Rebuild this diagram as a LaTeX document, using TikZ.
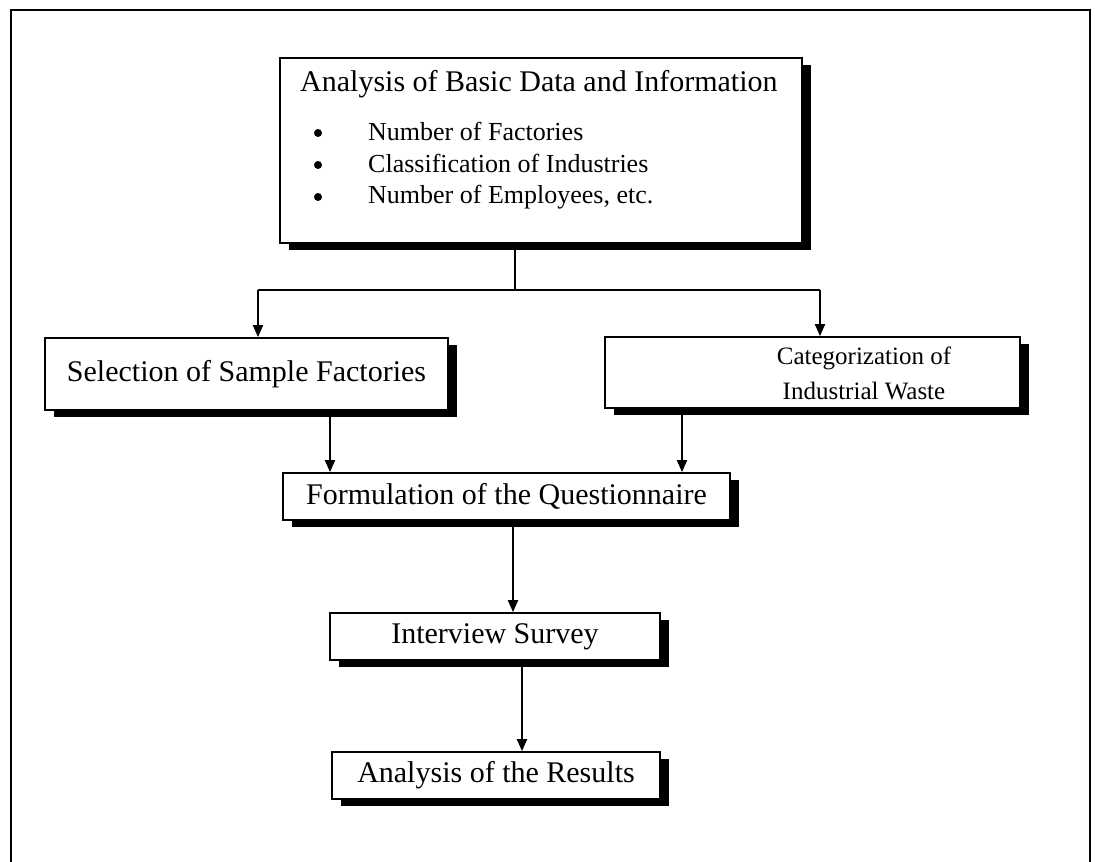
\documentclass[tikz,border=0pt]{standalone}
\usepackage{fontspec}
\setmainfont{Liberation Serif}
\usetikzlibrary{arrows.meta,shadows}
\begin{document}
\begin{tikzpicture}[x=1pt,y=-1pt,
  box/.style={draw=black,line width=1.8pt,fill=white,inner sep=0pt,
    drop shadow={shadow xshift=9pt,shadow yshift=-7pt,fill=black,opacity=1}},
  boxtext/.style={font=\fontsize{30}{36}\selectfont,align=center},
  item/.style={font=\fontsize{26}{30}\selectfont,anchor=base west,inner sep=0pt},
  dot/.style={circle,fill=black,inner sep=0pt,minimum size=8pt},
  link/.style={line width=2pt},
  arr/.style={line width=2pt,-{Triangle[length=12pt,width=10pt]}}]
\useasboundingbox (0,0) rectangle (1095,862);
% open outer frame
\draw[line width=2.2pt] (11,862) -- (11,10) -- (1090,10) -- (1090,862);

% boxes, sized from corner to corner
\node[box,minimum width=522pt,minimum height=185pt] (basic) at (541,150.5) {};
\node[box,boxtext,minimum width=403pt,minimum height=72pt] (sel) at (246.5,374) {Selection of Sample Factories};
\node[box,minimum width=415pt,minimum height=71pt] (cat) at (812.5,372.5) {};
\node[box,boxtext,minimum width=447pt,minimum height=47pt] (form) at (506.5,496.5) {Formulation of the Questionnaire};
\node[box,boxtext,minimum width=330pt,minimum height=47pt] (int) at (495,636.5) {Interview Survey};
\node[box,boxtext,minimum width=328pt,minimum height=47pt] (res) at (496,775.5) {Analysis of the Results};

% text of the categorization box, set a little smaller
\node[font=\fontsize{25}{35}\selectfont,align=center,inner sep=0pt] (catlabel) at (864,373) {Categorization of\\Industrial Waste};

% contents of the top box
\node[font=\fontsize{30}{36}\selectfont,anchor=base west,inner sep=0pt] (title) at (300,91) {Analysis of Basic Data and Information};
\node[dot] (b1) at (318,133) {};
\node[dot] (b2) at (318,165) {};
\node[dot] (b3) at (318,197) {};
\node[item] (i1) at (368,140) {Number of Factories};
\node[item] (i2) at (368,172) {Classification of Industries};
\node[item] (i3) at (368,203) {Number of Employees, etc.};

% connectors
\coordinate (split) at (515,290);
\coordinate (splitL) at (258,290);
\coordinate (splitR) at (820,290);
\draw[link] (basic.south -| split) -- (split);
\draw[link] (splitL) -- (splitR);
\draw[arr] (splitL) -- (sel.north -| splitL);
\draw[arr] (splitR) -- (cat.north -| splitR);
\draw[arr] (sel.south -| 330,0) -- (form.north -| 330,0);
\draw[arr] (cat.south -| 682,0) -- (form.north -| 682,0);
\draw[arr] (form.south -| 513,0) -- (int.north -| 513,0);
\draw[arr] (int.south -| 522,0) -- (res.north -| 522,0);
\end{tikzpicture}
\end{document}
